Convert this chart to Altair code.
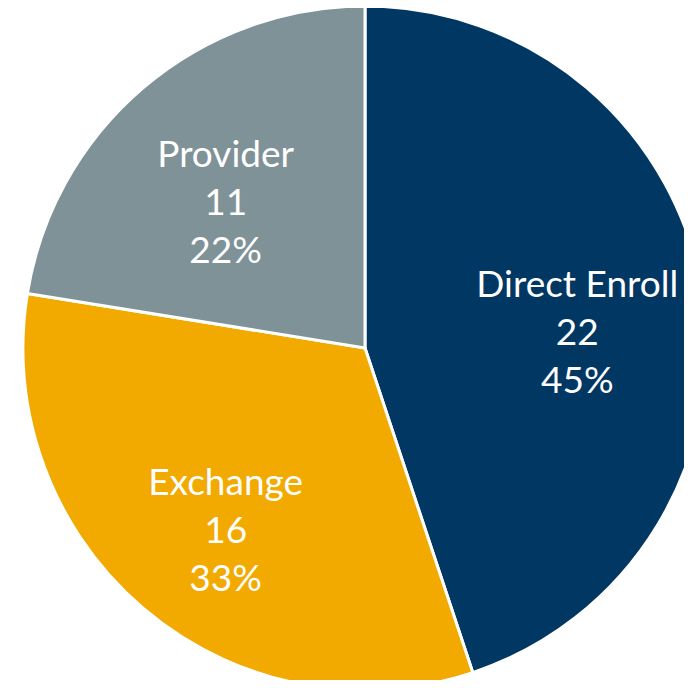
import altair as alt
import pandas as pd

categories = ["Direct Enroll", "Exchange", "Provider"]
values = [22, 16, 11]
percents = [45, 33, 22]
colors = ["#003763", "#F2A900", "#7F9298"]

df = pd.DataFrame({
    "cat": categories,
    "value": values,
    "pct": percents,
    "order": list(range(len(categories))),
})

base = alt.Chart(df).encode(
    theta=alt.Theta("value:Q", stack=True),
    order=alt.Order("order:Q"),
    x=alt.value(357),
    y=alt.value(340),
)

arcs = base.mark_arc(radius=342, stroke="white", strokeWidth=3).encode(
    color=alt.Color("cat:N", scale=alt.Scale(domain=categories, range=colors), legend=None)
)

labels = base.transform_calculate(
    label="datum.cat + '\\n' + datum.value + '\\n' + datum.pct + '%'"
).mark_text(
    radius=215, dy=-28, font="Lato", fontSize=37, color="white", lineBreak="\n",
    lineHeight=48, align="center", baseline="middle"
).encode(text="label:N")

chart = alt.layer(arcs, labels).properties(
    width=676, height=672, padding=0, autosize=alt.AutoSizeParams(type="none")
).configure_view(stroke=None)

chart.save("out.html", embed_options={"renderer": "svg", "actions": False})
